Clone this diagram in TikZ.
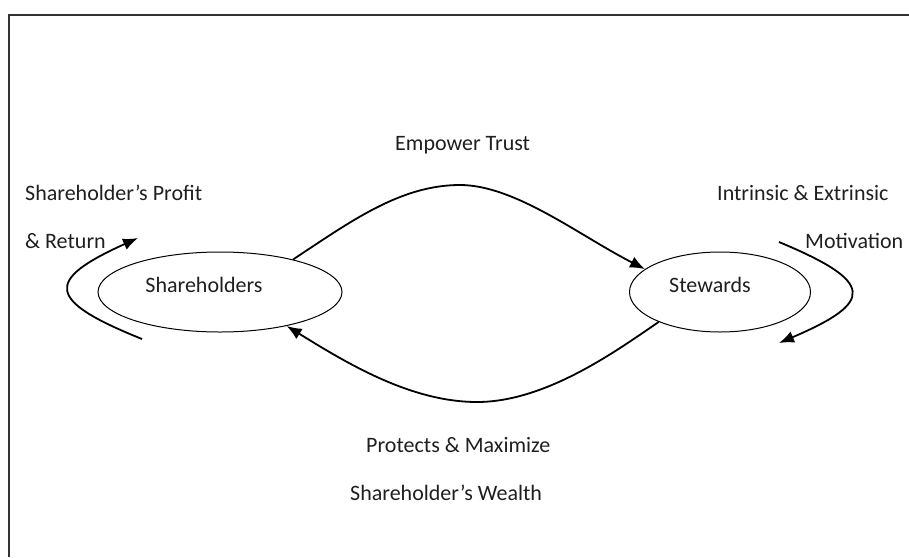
\documentclass[tikz,border=0pt]{standalone}
\usepackage{fontspec}
\setmainfont{Carlito}
\usetikzlibrary{arrows.meta,shapes.geometric}

\begin{document}
\begin{tikzpicture}[x=1pt,y=-1pt,
font=\fontsize{22}{26}\selectfont\color{black!88},
party/.style={draw, ellipse, line width=1pt, text height=16pt, text depth=16pt, minimum height=80pt},
flow/.style={line width=1.8pt, -{Latex[length=15pt,width=12pt]}},
caption/.style={anchor=base west, inner sep=0pt}]
\useasboundingbox (0,0) rectangle (909,557);
\draw[line width=1.5pt, black!80] (9,557) -- (9,15) -- (909,15);

\node[party, minimum width=244pt] (sh) at (220,292) {Shareholders\hspace*{32pt}};
\node[party, minimum width=181pt] (st) at (720,292) {Stewards\hspace*{20pt}};

\node[caption] (trust) at (395,150) {Empower Trust};
\node[caption] (profit) at (25,200) {Shareholder’s Profit};
\node[caption] (return) at (25,248) {\& Return};
\node[caption] (intr) at (717,200) {Intrinsic \& Extrinsic};
\node[caption] (motiv) at (805,248) {Motivation};
\node[caption] (prot) at (366,452) {Protects \& Maximize};
\node[caption] (wealth) at (350,500) {Shareholder’s Wealth};

\coordinate (shout) at (142,339);
\coordinate (shin) at (138,238);
\coordinate (stout) at (779,242);
\coordinate (stin) at (779,343);
\coordinate (top) at (460,185);
\coordinate (bottom) at (477,402);

\draw[flow] (sh.24) .. controls (350,222) and (400,185) .. (top)
  .. controls (515,185) and (580,236) .. (st.163);
\draw[flow] (st.206) .. controls (615,352) and (545,402) .. (bottom)
  .. controls (410,402) and (345,362) .. (sh.-27);
\draw[flow] (shout) .. controls (45,300) and (45,280) .. (shin);
\draw[flow] (stout) .. controls (875,282) and (875,302) .. (stin);
\end{tikzpicture}
\end{document}
